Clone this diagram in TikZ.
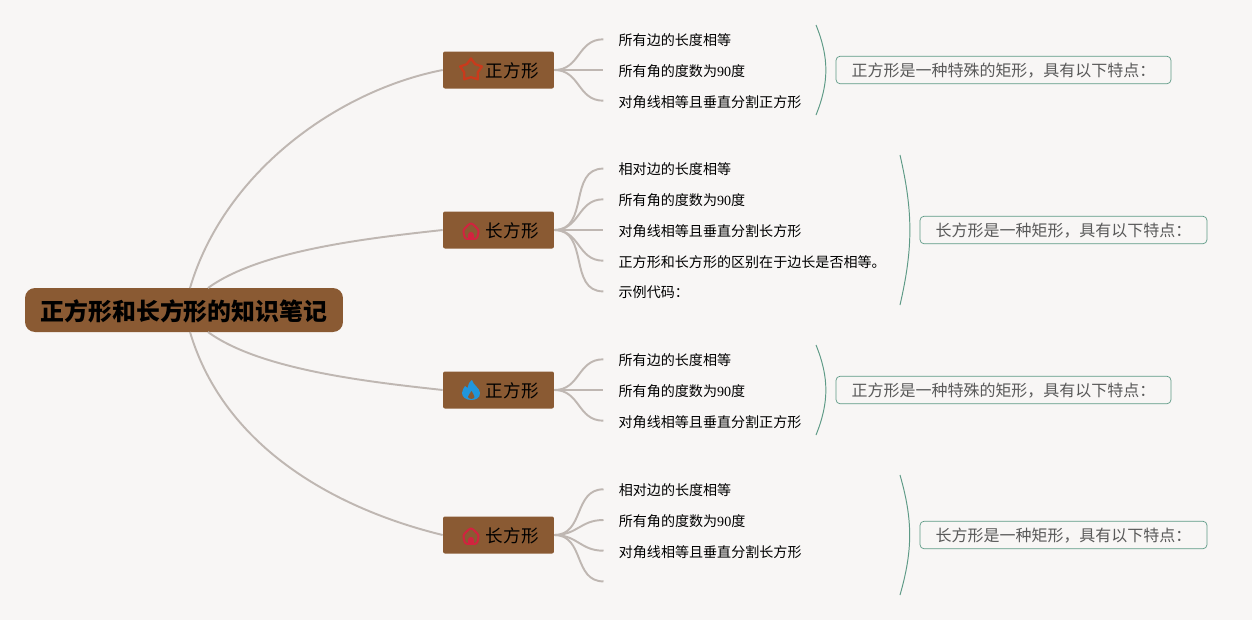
\documentclass[tikz,border=0pt]{standalone}
\usepackage{fontspec}
\setmainfont{Noto Sans CJK SC}
\newfontfamily\numfont{Liberation Serif}
\usetikzlibrary{positioning,shapes.geometric}
\definecolor{paper}{HTML}{F8F6F5}
\definecolor{bark}{HTML}{8A5A33}
\definecolor{twine}{HTML}{BFB7B2}
\definecolor{sage}{HTML}{5E9A86}
\definecolor{starred}{HTML}{C93A1C}
\definecolor{homered}{HTML}{D2233F}
\definecolor{flameblue}{HTML}{2196DC}

\begin{document}
\begin{tikzpicture}[
  x=0.02cm, y=-0.02cm,
  root/.style={fill=bark, rounded corners=0.2cm, minimum width=6.36cm, minimum height=0.88cm, inner sep=0pt, text height=13.4pt, text depth=1.1pt, font=\fontsize{13.6}{16}\selectfont\bfseries},
  topic/.style={fill=bark, rounded corners=0.04cm, minimum width=2.22cm, minimum height=0.74cm, inner sep=0pt, text height=8.4pt, text depth=0.4pt, font=\fontsize{10}{12}\selectfont},
  leaf/.style={minimum height=0.6cm, inner xsep=0.3cm, inner ysep=0pt, text height=7.6pt, text depth=0.4pt, font=\fontsize{8}{10}\selectfont},
  note/.style={draw=sage, fill=paper, rounded corners=0.08cm, minimum height=0.55cm, inner sep=0pt, text height=8pt, text depth=0.6pt, text=black!65, font=\fontsize{9.1}{12}\selectfont},
  limb/.style={draw=twine, line width=1.1pt},
  twig/.style={draw=twine, line width=1.1pt, out=0, in=180, looseness=1.15},
  bracket/.style={draw=sage, line width=0.55pt},
  starpic/.pic={\node[star, star points=5, star point ratio=1.6, draw=starred, line width=1.3pt, line join=round, minimum size=0.46cm, inner sep=0pt] (starmark) at (0,0) {};},
  homepic/.pic={
    \draw[draw=homered, line width=1.1pt, rounded corners=0.05cm] (-6,8) -- (-8,-1) -- (0,-8.5) -- (8,-1) -- (6,8) -- cycle;
    \fill[homered] (-3,8) -- (-3,4) .. controls (-3,2) and (-1.5,1) .. (0,1) .. controls (1.5,1) and (3,2) .. (3,4) -- (3,8) -- cycle;},
  flamepic/.pic={
    \fill[flameblue] (1,-10) .. controls (2,-5) and (9,-2) .. (9,3) .. controls (9,8) and (5,10) .. (0,10) .. controls (-5,10) and (-9,7) .. (-9,3) .. controls (-9,0) and (-7,-2) .. (-6,-4) .. controls (-5,-3) and (-4,-2.5) .. (-3.5,-2) .. controls (-3,-5) and (-2,-8) .. (1,-10) -- cycle;
    \fill[bark] (0.5,1) .. controls (1,3) and (4,5) .. (3.5,7) .. controls (3,9.5) and (-2,9.5) .. (-3,7) .. controls (-3.5,5) and (-0.5,4) .. (0.5,1) -- cycle;}
]

\fill[paper] (0,0) rectangle (1252,620);
\useasboundingbox (0,0) rectangle (1252,620);

% Central topic
\node[root] (root) at (184,310) {正方形和长方形的知识笔记};
\coordinate (rootA) at (190,288);
\coordinate (rootB) at (208,288);
\coordinate (rootC) at (208,332);
\coordinate (rootD) at (190,332);

% Square, first branch
\node[topic] (squareA) at (498.5,70) {\hspace*{0.55cm}正方形};
\node[leaf, right=0.98cm of squareA] (squareAangle) {所有角的度数为{\numfont 90}度};
\node[leaf, above=0cm of squareAangle.north west, anchor=south west] (squareAside) {所有边的长度相等};
\node[leaf, below=0cm of squareAangle.south west, anchor=north west] (squareAdiag) {对角线相等且垂直分割正方形};
\node[note, minimum width=6.7cm] (squareAnote) at (1003.5,70) {正方形是一种特殊的矩形，具有以下特点：};
\coordinate (squareAtop) at (816,25);
\coordinate (squareAbot) at (816,115);

% Rectangle, first branch
\node[topic] (rectA) at (498.5,230) {\hspace*{0.55cm}长方形};
\node[leaf, right=0.98cm of rectA] (rectAdiag) {对角线相等且垂直分割长方形};
\node[leaf, above=0cm of rectAdiag.north west, anchor=south west] (rectAangle) {所有角的度数为{\numfont 90}度};
\node[leaf, above=0cm of rectAangle.north west, anchor=south west] (rectAside) {相对边的长度相等};
\node[leaf, below=0cm of rectAdiag.south west, anchor=north west] (rectAdiff) {正方形和长方形的区别在于边长是否相等。};
\node[leaf, below=0cm of rectAdiff.south west, anchor=north west] (rectAcode) {示例代码：};
\node[note, minimum width=5.74cm] (rectAnote) at (1063.5,230) {长方形是一种矩形，具有以下特点：};
\coordinate (rectAtop) at (900,155);
\coordinate (rectAbot) at (900,305);

% Square, second branch
\node[topic] (squareB) at (498.5,390) {\hspace*{0.55cm}正方形};
\node[leaf, right=0.98cm of squareB] (squareBangle) {所有角的度数为{\numfont 90}度};
\node[leaf, above=0cm of squareBangle.north west, anchor=south west] (squareBside) {所有边的长度相等};
\node[leaf, below=0cm of squareBangle.south west, anchor=north west] (squareBdiag) {对角线相等且垂直分割正方形};
\node[note, minimum width=6.7cm] (squareBnote) at (1003.5,390) {正方形是一种特殊的矩形，具有以下特点：};
\coordinate (squareBtop) at (816,345);
\coordinate (squareBbot) at (816,435);

% Rectangle, second branch
\node[topic] (rectB) at (498.5,535) {\hspace*{0.55cm}长方形};
\node[leaf] (rectBangle) at (603.5,520) [anchor=west] {所有角的度数为{\numfont 90}度};
\node[leaf, above=0cm of rectBangle.north west, anchor=south west] (rectBside) {相对边的长度相等};
\node[leaf, below=0cm of rectBangle.south west, anchor=north west] (rectBdiag) {对角线相等且垂直分割长方形};
\node[leaf, below=0cm of rectBdiag.south west, anchor=north west] (rectBempty) {};
\node[note, minimum width=5.74cm] (rectBnote) at (1063.5,535) {长方形是一种矩形，具有以下特点：};
\coordinate (rectBtop) at (900,475);
\coordinate (rectBbot) at (900,595);

% Icons
\pic at (471,70) {starpic};
\pic at (471,231) {homepic};
\pic at (471,390) {flamepic};
\pic at (471,536) {homepic};

% Limbs from the central topic
\draw[limb] (rootA) .. controls (225,170) and (340,90) .. (squareA.west);
\draw[limb] (rootB) .. controls (260,250) and (370,238) .. (rectA.west);
\draw[limb] (rootC) .. controls (260,370) and (370,382) .. (squareB.west);
\draw[limb] (rootD) .. controls (225,450) and (340,510) .. (rectB.west);

% Twigs
\draw[twig] (squareA.east) to (squareAside.west);
\draw[twig] (squareA.east) to (squareAangle.west);
\draw[twig] (squareA.east) to (squareAdiag.west);
\draw[twig] (rectA.east) to (rectAside.west);
\draw[twig] (rectA.east) to (rectAangle.west);
\draw[twig] (rectA.east) to (rectAdiag.west);
\draw[twig] (rectA.east) to (rectAdiff.west);
\draw[twig] (rectA.east) to (rectAcode.west);
\draw[twig] (squareB.east) to (squareBside.west);
\draw[twig] (squareB.east) to (squareBangle.west);
\draw[twig] (squareB.east) to (squareBdiag.west);
\draw[twig] (rectB.east) to (rectBside.west);
\draw[twig] (rectB.east) to (rectBangle.west);
\draw[twig] (rectB.east) to (rectBdiag.west);
\draw[twig] (rectB.east) to (rectBempty.west);

% Brackets
\draw[bracket] (squareAtop) to[bend left=22] (squareAbot);
\draw[bracket] (rectAtop) to[bend left=13] (rectAbot);
\draw[bracket] (squareBtop) to[bend left=22] (squareBbot);
\draw[bracket] (rectBtop) to[bend left=16] (rectBbot);

\end{tikzpicture}
\end{document}
